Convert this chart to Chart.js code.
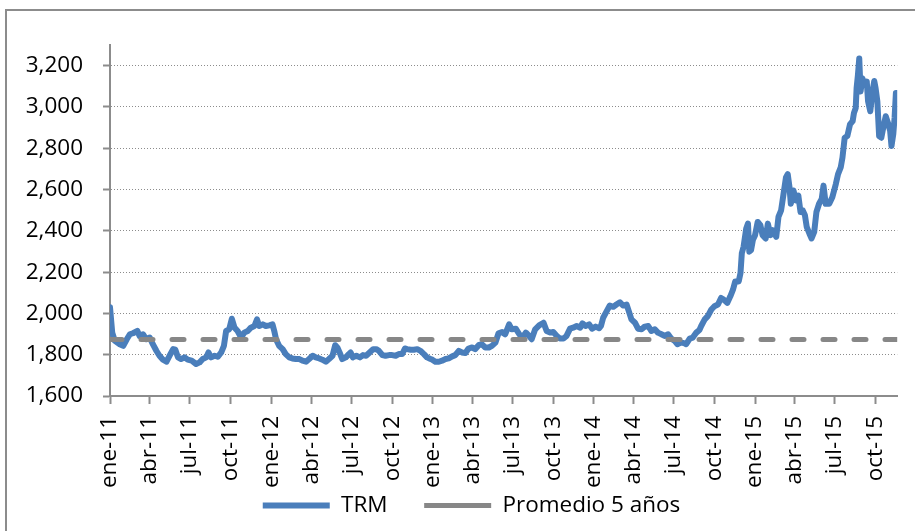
<!DOCTYPE html>
<html><head><meta charset="utf-8">
<script src="https://cdn.jsdelivr.net/npm/chart.js@4.4.1/dist/chart.umd.min.js"></script>
<style>
html,body{margin:0;padding:0;background:#fff;overflow:hidden;width:915px;height:531px}
#frame{position:absolute;left:5px;top:9px;width:1000px;height:1000px;border:2px solid #8c8c8c;box-sizing:border-box}
#wrap{position:absolute;left:0;top:0;width:915px;height:531px}
</style></head><body>
<div id="frame"></div>
<div id="wrap"><canvas id="c" width="915" height="531"></canvas></div>
<script>
const seriesNames = ['TRM', 'Promedio 5 años'];
const dates = [
'2011-01-01','2011-01-06','2011-01-12','2011-01-23','2011-01-31','2011-02-08','2011-02-15','2011-02-22','2011-03-04','2011-03-09',
'2011-03-17','2011-03-24','2011-04-01','2011-04-08','2011-04-16','2011-04-23','2011-05-01','2011-05-09','2011-05-16','2011-05-24',
'2011-05-29','2011-06-04','2011-06-11','2011-06-19','2011-06-26','2011-07-05','2011-07-15','2011-07-23','2011-07-30','2011-08-07',
'2011-08-12','2011-08-18','2011-08-26','2011-09-02','2011-09-10','2011-09-16','2011-09-21','2011-09-28','2011-10-04','2011-10-10',
'2011-10-17','2011-10-25','2011-11-01','2011-11-09','2011-11-16','2011-11-24','2011-11-30','2011-12-05','2011-12-13','2011-12-20',
'2011-12-28','2012-01-04','2012-01-08','2012-01-12','2012-01-19','2012-01-27','2012-02-03','2012-02-11','2012-02-18','2012-02-26',
'2012-03-05','2012-03-12','2012-03-20','2012-03-27','2012-04-04','2012-04-11','2012-04-19','2012-04-26','2012-05-04','2012-05-11',
'2012-05-19','2012-05-25','2012-05-30','2012-06-04','2012-06-10','2012-06-18','2012-06-25','2012-06-29','2012-07-04','2012-07-12',
'2012-07-20','2012-07-27','2012-08-03','2012-08-11','2012-08-19','2012-08-26','2012-09-01','2012-09-09','2012-09-16','2012-09-24',
'2012-10-01','2012-10-09','2012-10-16','2012-10-24','2012-10-30','2012-11-04','2012-11-12','2012-11-19','2012-11-27','2012-12-04',
'2012-12-12','2012-12-19','2012-12-27','2012-12-31','2013-01-07','2013-01-15','2013-01-22','2013-01-30','2013-02-06','2013-02-14',
'2013-02-21','2013-03-01','2013-03-08','2013-03-16','2013-03-23','2013-03-31','2013-04-07','2013-04-15','2013-04-22','2013-04-30',
'2013-05-08','2013-05-15','2013-05-23','2013-05-30','2013-06-07','2013-06-14','2013-06-23','2013-06-29','2013-07-08','2013-07-16',
'2013-07-23','2013-07-31','2013-08-07','2013-08-13','2013-08-21','2013-08-30','2013-09-09','2013-09-16','2013-09-24','2013-10-01',
'2013-10-09','2013-10-16','2013-10-24','2013-10-31','2013-11-08','2013-11-15','2013-11-23','2013-12-01','2013-12-06','2013-12-13',
'2013-12-21','2013-12-28','2014-01-05','2014-01-13','2014-01-17','2014-01-22','2014-01-30','2014-02-06','2014-02-14','2014-02-21',
'2014-03-01','2014-03-08','2014-03-16','2014-03-21','2014-03-27','2014-04-04','2014-04-11','2014-04-19','2014-04-26','2014-05-04',
'2014-05-11','2014-05-19','2014-05-26','2014-06-03','2014-06-10','2014-06-18','2014-06-25','2014-07-03','2014-07-09','2014-07-17',
'2014-07-24','2014-07-29','2014-08-06','2014-08-13','2014-08-21','2014-08-28','2014-09-01','2014-09-09','2014-09-16','2014-09-24',
'2014-10-01','2014-10-09','2014-10-16','2014-10-22','2014-10-30','2014-11-06','2014-11-12','2014-11-17','2014-11-25','2014-11-29',
'2014-12-02','2014-12-06','2014-12-12','2014-12-16','2014-12-19','2014-12-23','2014-12-27','2015-01-01','2015-01-07','2015-01-13',
'2015-01-18','2015-01-25','2015-01-30','2015-02-05','2015-02-10','2015-02-18','2015-02-23','2015-03-01','2015-03-06','2015-03-12',
'2015-03-16','2015-03-20','2015-03-23','2015-03-29','2015-04-04','2015-04-09','2015-04-14','2015-04-19','2015-04-24','2015-04-28',
'2015-05-04','2015-05-09','2015-05-15','2015-05-20','2015-05-26','2015-06-01','2015-06-05','2015-06-10','2015-06-18','2015-06-25',
'2015-07-03','2015-07-08','2015-07-14','2015-07-18','2015-07-23','2015-07-29','2015-08-04','2015-08-10','2015-08-13','2015-08-17',
'2015-08-19','2015-08-22','2015-08-25','2015-08-28','2015-09-01','2015-09-06','2015-09-11','2015-09-14','2015-09-19','2015-09-24',
'2015-09-28','2015-10-01','2015-10-05','2015-10-09','2015-10-14','2015-10-19','2015-10-24','2015-10-29','2015-11-03','2015-11-06',
'2015-11-10','2015-11-13','2015-11-16','2015-11-19'
];
const trm = [
2030,1907,1867,1851,1843,1875,1899,1904,1915,1891,
1899,1875,1883,1851,1819,1795,1776,1766,1795,1827,
1824,1787,1779,1787,1776,1771,1755,1763,1779,1787,
1811,1787,1795,1790,1811,1843,1915,1923,1974,1931,
1915,1883,1907,1915,1931,1939,1971,1939,1947,1939,
1942,1947,1915,1875,1843,1827,1803,1787,1782,1779,
1779,1771,1766,1779,1795,1787,1782,1776,1766,1779,
1795,1846,1835,1811,1779,1787,1803,1811,1787,1795,
1787,1798,1795,1811,1827,1827,1819,1798,1795,1798,
1798,1795,1803,1803,1830,1827,1824,1824,1827,1819,
1803,1787,1779,1776,1766,1766,1771,1779,1782,1792,
1798,1819,1811,1808,1830,1835,1827,1846,1851,1835,
1835,1843,1859,1904,1910,1899,1947,1923,1926,1899,
1883,1907,1891,1875,1923,1942,1955,1915,1907,1910,
1891,1878,1878,1891,1926,1931,1939,1931,1952,1939,
1947,1926,1936,1928,1939,1979,2011,2038,2032,2043,
2054,2038,2043,2011,1971,1955,1926,1923,1936,1939,
1915,1923,1907,1899,1891,1899,1878,1867,1851,1859,
1856,1851,1878,1883,1907,1920,1939,1971,1987,2019,
2035,2043,2075,2067,2051,2083,2115,2155,2155,2195,
2291,2323,2411,2435,2299,2307,2355,2379,2443,2427,
2379,2363,2435,2379,2403,2371,2467,2499,2571,2659,
2675,2611,2531,2595,2547,2571,2491,2499,2475,2419,
2387,2363,2395,2491,2531,2555,2619,2531,2531,2563,
2627,2675,2707,2755,2851,2859,2915,2931,2971,2995,
3091,3155,3235,3075,3139,3107,3123,3027,2979,3075,
3126,3091,3027,2859,2851,2907,2955,2923,2883,2811,
2867,2947,3067,3067
];
const promedio5 = 1874;
const tickDates = ['2011-01-01','2011-04-01','2011-07-01','2011-10-01','2012-01-01','2012-04-01','2012-07-01','2012-10-01',
'2013-01-01','2013-04-01','2013-07-01','2013-10-01','2014-01-01','2014-04-01','2014-07-01','2014-10-01',
'2015-01-01','2015-04-01','2015-07-01','2015-10-01'];
const tickLabels = ['ene-11','abr-11','jul-11','oct-11','ene-12','abr-12','jul-12','oct-12','ene-13','abr-13','jul-13','oct-13',
'ene-14','abr-14','jul-14','oct-14','ene-15','abr-15','jul-15','oct-15'];
const yMin = 1600, yMax = 3300, yStep = 200;

function day(s){ const p = s.split('-').map(Number); return Date.UTC(p[0], p[1]-1, p[2]) / 864e5; }
const xMin = day(dates[0]), xMax = day(dates[dates.length-1]);
const FONT = {family: "'Open Sans', 'Liberation Sans', sans-serif", size: 22.5};
const AXIS = '#8c8c8c';

const legendPos = {
  id: 'legendPos',
  afterLayout(chart) {
    const l = chart.legend;
    l.left = 43; l.right = 900; l.width = 857;
    l.top = 457.6; l.bottom = 531; l.height = 73.4;
  }
};

new Chart(document.getElementById('c'), {
  type: 'line',
  data: {
    datasets: [
      { label: seriesNames[0], data: dates.map((d,i)=>({x: day(d), y: trm[i]})),
        borderColor: '#4a7ebb', backgroundColor: '#4a7ebb', borderWidth: 6, pointRadius: 0,
        borderJoinStyle: 'round', borderCapStyle: 'round', fill: false, tension: 0, order: 1 },
      { label: seriesNames[1], data: [{x: xMin, y: promedio5}, {x: xMax, y: promedio5}],
        borderColor: '#878787', backgroundColor: '#878787', borderWidth: 5, pointRadius: 0,
        borderDash: [12, 19], borderCapStyle: 'round', fill: false, order: 0 }
    ]
  },
  plugins: [legendPos],
  options: {
    responsive: false, animation: false, devicePixelRatio: 1,
    layout: { padding: { left: 10, right: 15, top: 45, bottom: 0 } },
    plugins: {
      tooltip: { enabled: false },
      legend: {
        position: 'bottom', maxHeight: 20,
        labels: {
          usePointStyle: true, pointStyle: 'line', pointStyleWidth: 67,
          padding: 36.65, font: FONT, color: '#000',
          sort: (a, b) => a.datasetIndex - b.datasetIndex
        }
      }
    },
    scales: {
      x: {
        type: 'linear', min: xMin, max: xMax,
        afterBuildTicks: (s) => { s.ticks = tickDates.map(d => ({value: day(d)})); },
        afterFit: (s) => { s.height = 115; },
        ticks: { autoSkip: false, minRotation: 90, maxRotation: 90, padding: 12, font: FONT, color: '#000',
          callback: (v, i) => tickLabels[i] },
        grid: { drawOnChartArea: false, drawTicks: true, tickLength: 8, tickColor: AXIS, tickWidth: 2 },
        border: { color: AXIS, width: 2 }
      },
      y: {
        min: yMin, max: yMax,
        afterFit: (s) => { s.width = 100; },
        ticks: { stepSize: yStep, includeBounds: false, padding: 20, font: FONT, color: '#000',
          callback: (v) => Number(v).toLocaleString('en-US') },
        grid: { color: AXIS, lineWidth: 1, tickLength: 7, tickColor: AXIS, tickWidth: 2 },
        border: { color: AXIS, width: 2, dash: [1, 2] }
      }
    }
  }
});
</script>
</body></html>
